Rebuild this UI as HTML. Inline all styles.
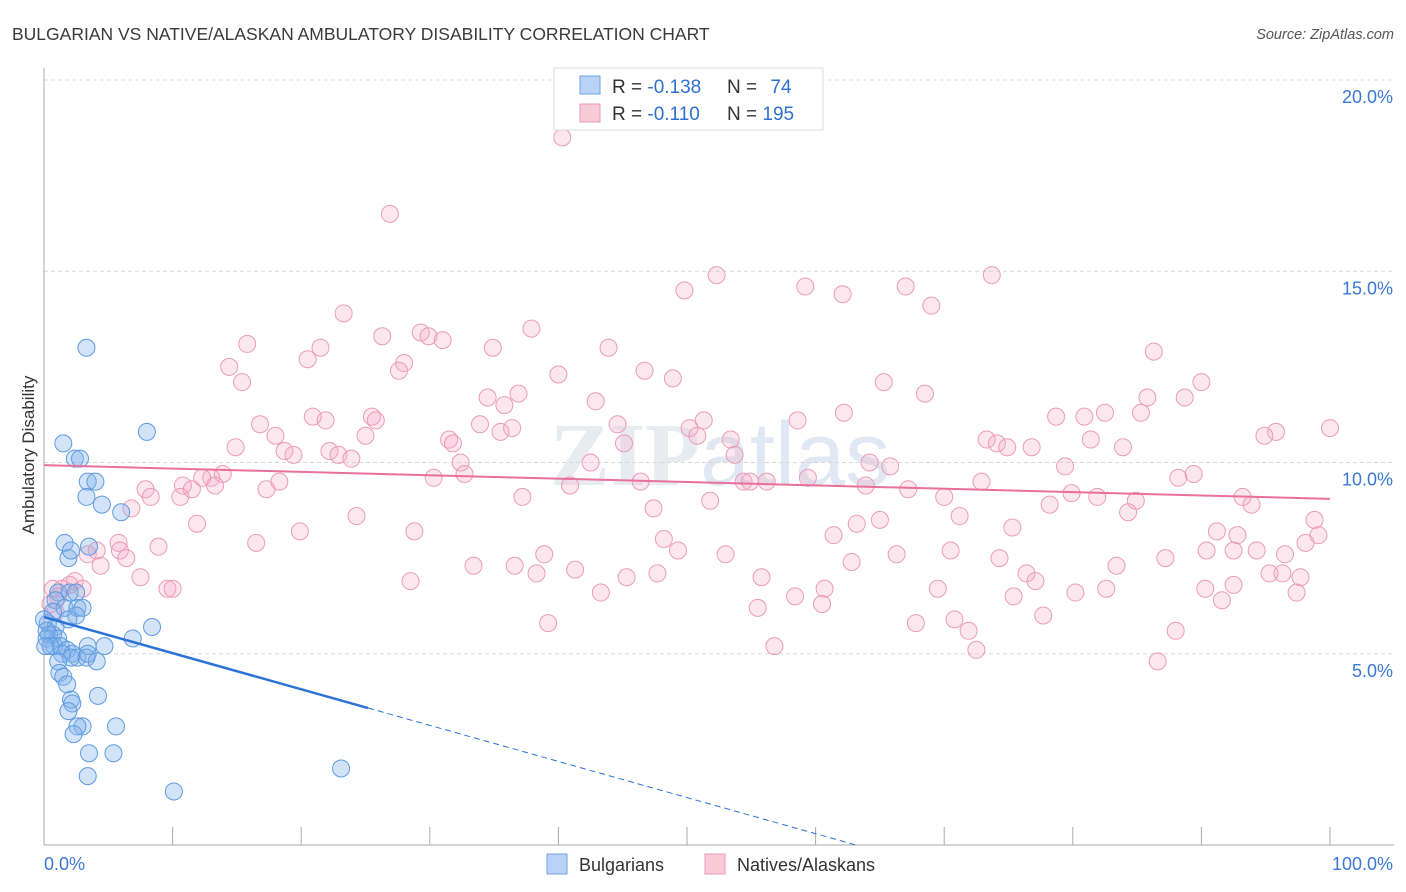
<!DOCTYPE html>
<html><head><meta charset="utf-8"><style>
body{margin:0;background:#fff;font-family:"Liberation Sans",sans-serif}
svg{display:block}
</style></head><body>
<svg id="chart" width="1406" height="892">
<text x="12" y="40" font-size="17.5" fill="#3a3a3a">BULGARIAN VS NATIVE/ALASKAN AMBULATORY DISABILITY CORRELATION CHART</text>
<text x="1394" y="39" font-size="14.5" fill="#555" font-style="italic" text-anchor="end">Source: ZipAtlas.com</text>
<text x="720" y="485" font-size="90" fill="#e8ecf1" text-anchor="middle" font-family="Liberation Serif,serif" font-weight="bold">ZIP<tspan font-family="Liberation Sans,sans-serif" font-weight="normal" fill="#dfe8f3">atlas</tspan></text>
<g id="grid"></g>
<g id="axes"></g>
<g id="pts"></g>
<g id="lines"></g>
<text transform="translate(34,455) rotate(-90)" font-size="17" fill="#333" text-anchor="middle">Ambulatory Disability</text>
<g>
<rect x="554" y="68" width="269" height="62" fill="#fff" stroke="#ddd"/>
<rect x="580" y="76" width="20" height="18" fill="#b8d3f5" stroke="#6fa3e3"/>
<rect x="580" y="104" width="20" height="18" fill="#f9cbd9" stroke="#e99ab5"/>
<text x="612" y="93" font-size="19" fill="#333">R = <tspan fill="#2f6fd0">-0.138</tspan></text>
<text x="727" y="93" font-size="19" fill="#333">N = <tspan fill="#2f6fd0" dx="8">74</tspan></text>
<text x="612" y="120" font-size="19" fill="#333">R = <tspan fill="#2f6fd0">-0.110</tspan></text>
<text x="727" y="120" font-size="19" fill="#333">N = <tspan fill="#2f6fd0">195</tspan></text>
</g>
<g>
<rect x="547" y="854" width="20" height="20" fill="#b8d3f5" stroke="#6fa3e3"/>
<text x="579" y="871" font-size="18" fill="#333">Bulgarians</text>
<rect x="705" y="854" width="20" height="20" fill="#f9cbd9" stroke="#e99ab5"/>
<text x="737" y="871" font-size="18" fill="#333">Natives/Alaskans</text>
</g>
</svg>
<script>
const yTicks=[5,10,15,20];
const yTickLabels=["5.0%","10.0%","15.0%","20.0%"];
const xTickLabels=["0.0%","100.0%"];
const pinkX=[40.3,26.9,52.3,73.7,49.8,59.2,62.1,67.0,69.0,23.3,29.3,29.9,31.0,26.3,37.9,15.8,21.5,20.5,34.9,43.9,86.3,28.0,27.6,14.4,46.7,40.0,15.4,48.9,65.3,90.0,68.5,36.9,34.5,35.8,42.9,85.8,88.7,20.9,25.5,25.8,16.8,21.9,33.9,36.4,44.6,51.3,58.6,62.2,78.7,80.9,82.5,85.3,100,95.8,94.9,18.0,25.0,31.5,31.8,35.5,45.1,50.2,50.8,53.4,73.3,74.1,74.9,76.8,81.4,83.9,14.9,18.7,19.4,22.2,22.9,23.9,32.4,42.5,53.7,64.2,65.8,79.4,89.4,88.2,13.9,13.0,12.3,13.3,10.8,11.5,7.9,8.3,10.6,17.3,18.3,30.3,32.7,40.9,46.4,54.4,56.2,54.9,59.4,63.9,72.9,67.2,70.0,79.9,81.9,84.9,93.2,93.9,78.2,84.3,37.2,51.8,47.4,6.8,11.9,24.3,65.0,71.2,63.2,75.3,91.2,92.8,98.8,99.1,98.1,19.9,28.8,16.5,8.9,5.8,5.9,4.1,3.4,6.4,4.4,48.2,61.4,49.3,53.0,66.3,83.4,87.2,90.4,92.5,94.3,96.5,74.3,70.5,62.8,38.9,36.6,33.4,41.3,38.3,45.3,47.7,55.8,60.7,69.5,76.4,77.1,82.6,95.3,96.3,97.7,97.4,92.5,90.3,75.4,80.2,7.5,2.4,2.0,1.4,3.0,9.6,10.0,28.5,43.3,58.4,60.5,55.5,91.6,77.7,70.8,67.8,39.2,71.9,88.0,56.8,72.5,86.6,0.7,1.1,0.5,0.9];
const pinkY=[18.5,16.5,14.9,14.9,14.5,14.6,14.4,14.6,14.1,13.9,13.4,13.3,13.2,13.3,13.5,13.1,13.0,12.7,13.0,13.0,12.9,12.6,12.4,12.5,12.4,12.3,12.1,12.2,12.1,12.1,11.8,11.8,11.7,11.5,11.6,11.7,11.7,11.2,11.2,11.1,11.0,11.1,11.0,10.9,11.0,11.1,11.1,11.3,11.2,11.2,11.3,11.3,10.9,10.8,10.7,10.7,10.7,10.6,10.5,10.8,10.5,10.9,10.7,10.6,10.6,10.5,10.4,10.4,10.6,10.4,10.4,10.3,10.2,10.3,10.2,10.1,10.0,10.0,10.2,10.0,9.9,9.9,9.7,9.6,9.7,9.6,9.6,9.4,9.4,9.3,9.3,9.1,9.1,9.3,9.5,9.6,9.7,9.4,9.5,9.5,9.5,9.5,9.6,9.4,9.5,9.3,9.1,9.2,9.1,9.0,9.1,8.9,8.9,8.7,9.1,9.0,8.8,8.8,8.4,8.6,8.5,8.6,8.4,8.3,8.2,8.1,8.5,8.1,7.9,8.2,8.2,7.9,7.8,7.9,7.7,7.7,7.6,7.5,7.3,8.0,8.1,7.7,7.6,7.6,7.3,7.5,7.7,7.7,7.7,7.6,7.5,7.7,7.4,7.6,7.3,7.3,7.2,7.1,7.0,7.1,7.0,6.7,6.7,7.1,6.9,6.7,7.1,7.1,7.0,6.6,6.8,6.7,6.5,6.6,7.0,6.9,6.8,6.7,6.7,6.7,6.7,6.9,6.6,6.5,6.3,6.2,6.4,6.0,5.9,5.8,5.8,5.6,5.6,5.2,5.1,4.8,6.7,6.5,6.3,6.1];
const blueX=[3.3,8.0,1.5,2.4,2.8,3.4,4.0,3.3,4.5,6.0,1.6,3.5,1.9,2.1,1.1,2.0,2.5,0.9,1.6,2.6,3.0,0.7,2.5,1.9,0.3,0.9,8.4,0.4,0.7,0.2,1.1,0.8,1.3,1.8,3.4,4.7,2.2,2.6,1.4,2.1,1.1,3.3,4.1,3.4,1.2,1.5,1.8,4.2,2.1,2.2,1.9,3.0,2.6,5.6,2.3,3.5,5.4,3.4,10.1,23.1,6.9,0,0.2,0.5,0.1];
const blueY=[13.0,10.8,10.5,10.1,10.1,9.5,9.5,9.1,8.9,8.7,7.9,7.8,7.5,7.7,6.6,6.6,6.6,6.4,6.2,6.2,6.2,6.1,6.0,5.9,5.8,5.7,5.7,5.5,5.5,5.4,5.4,5.2,5.2,5.1,5.2,5.2,5.0,4.9,5.0,4.9,4.8,4.9,4.8,5.0,4.5,4.4,4.2,3.9,3.8,3.7,3.5,3.1,3.1,3.1,2.9,2.4,2.4,1.8,1.4,2.0,5.4,5.9,5.6,5.2,5.2];
const pinkFit=[9.93,9.05];
const blueFit=[5.96,-0.0944];
const blueSolidEnd=25.2;

const NS="http://www.w3.org/2000/svg";
const X0=44,X1=1330,Y0=845,PXY=38.25;
const sx=v=>X0+(X1-X0)*v/100;
const sy=v=>Y0-v*PXY;
function mk(tag,attrs,parent){const e=document.createElementNS(NS,tag);for(const k in attrs)e.setAttribute(k,attrs[k]);parent.appendChild(e);return e;}
const grid=document.getElementById('grid'),axes=document.getElementById('axes'),pts=document.getElementById('pts'),lines=document.getElementById('lines');
yTicks.forEach((t,i)=>{
 const g=mk('line',{x1:X0,x2:1394,y1:sy(t),y2:sy(t),stroke:'#d8d8d8','stroke-dasharray':'4,3'},grid);
 
 
 const l=mk('text',{x:1393,y:sy(t)+23,'font-size':18,fill:'#3b78d4','text-anchor':'end'},grid);
 l.textContent=yTickLabels[i];
 
 
});
const ax=mk('line',{x1:X0,x2:X0,y1:68,y2:Y0,stroke:'#aaa'},axes);


const bx=mk('line',{x1:X0,x2:1394,y1:Y0,y2:Y0,stroke:'#aaa'},axes);


for(let i=1;i<=10;i++){
 const t=mk('line',{x1:sx(i*10),x2:sx(i*10),y1:Y0-18,y2:Y0,stroke:'#aaa'},axes);
 
 
}
const xl0=mk('text',{x:X0,y:870,'font-size':18,fill:'#3b78d4'},axes);xl0.textContent=xTickLabels[0];


const xl1=mk('text',{x:1393,y:870,'font-size':18,fill:'#3b78d4','text-anchor':'end'},axes);xl1.textContent=xTickLabels[1];


pinkX.forEach((v,i)=>{
 const c=mk('circle',{cx:sx(v),cy:sy(pinkY[i]),r:8.5,fill:'rgba(246,170,196,0.28)',stroke:'#eb9cb8','stroke-width':1},pts);
 
 
});
blueX.forEach((v,i)=>{
 const c=mk('circle',{cx:sx(v),cy:sy(blueY[i]),r:8.5,fill:'rgba(130,178,235,0.35)',stroke:'#5e9be0','stroke-width':1},pts);
 
 
});
const pl=mk('line',{x1:sx(0),y1:sy(pinkFit[0]),x2:sx(100),y2:sy(pinkFit[1]),stroke:'#e8709a','stroke-width':2},lines);


const bf=x=>blueFit[0]+blueFit[1]*x;
const bl=mk('line',{x1:sx(0),y1:sy(bf(0)),x2:sx(blueSolidEnd),y2:sy(bf(blueSolidEnd)),stroke:'#2b72d8','stroke-width':2.5},lines);


const xEnd=blueFit[0]/-blueFit[1];
const bd=mk('line',{x1:sx(blueSolidEnd),y1:sy(bf(blueSolidEnd)),x2:sx(xEnd),y2:sy(0),stroke:'#2b72d8','stroke-width':1,'stroke-dasharray':'6,4'},lines);


</script>
</body></html>
